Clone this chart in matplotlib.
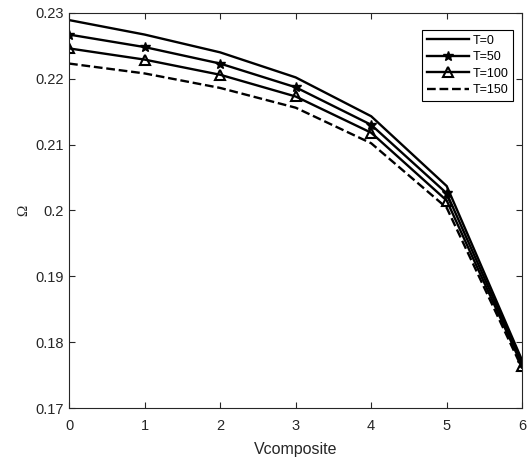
import matplotlib
matplotlib.use("Agg")
import matplotlib.pyplot as plt

plt.rcParams["font.family"] = ["Liberation Sans", "DejaVu Sans"]

v = [0, 1, 2, 3, 4, 5, 6]
t0 = [0.2289, 0.2267, 0.2240, 0.2202, 0.2143, 0.2037, 0.1772]
t50 = [0.2267, 0.2248, 0.2223, 0.2187, 0.2130, 0.2026, 0.1768]
t100 = [0.2246, 0.2229, 0.2206, 0.2173, 0.2118, 0.2015, 0.1764]
t150 = [0.2223, 0.2208, 0.2186, 0.2156, 0.2102, 0.2004, 0.1760]

fig = plt.figure(figsize=(5.27, 4.58), dpi=100)
ax = fig.add_axes([0.131, 0.109, 0.86, 0.863])

ax.plot(v, t0, "k-", lw=1.7, label="T=0")
ax.plot(v, t50, "k-", lw=1.7, marker="*", ms=7, label="T=50")
ax.plot(v, t100, "k-", lw=1.7, marker="^", ms=7, mfc="none", mew=1.5, label="T=100")
ax.plot(v, t150, "k--", lw=1.7, label="T=150")

ax.set_xlim(0, 6)
ax.set_ylim(0.17, 0.23)
ax.set_xticks(v)
ax.set_yticks([0.17, 0.18, 0.19, 0.2, 0.21, 0.22, 0.23])
ax.set_yticklabels(["0.17", "0.18", "0.19", "0.2", "0.21", "0.22", "0.23"])
ax.tick_params(direction="in", length=4, labelsize=10.5, top=True, right=True, colors="#262626")
ax.tick_params(axis="x", pad=8)
ax.set_xlabel("Vcomposite", fontsize=11.5, color="#262626", labelpad=6)
ax.set_ylabel("Ω", fontsize=11, family=["Liberation Serif", "DejaVu Serif"], color="#262626")
for s in ax.spines.values():
    s.set_color("#262626")

leg = ax.legend(loc="upper right", bbox_to_anchor=(0.98, 0.957), fontsize=9,
                fancybox=False, edgecolor="black", framealpha=1, handlelength=3.3,
                borderpad=0.4, labelspacing=0.35, handletextpad=0.3, borderaxespad=0)
leg.get_frame().set_linewidth(0.8)

fig.savefig("out.png", dpi=100)
